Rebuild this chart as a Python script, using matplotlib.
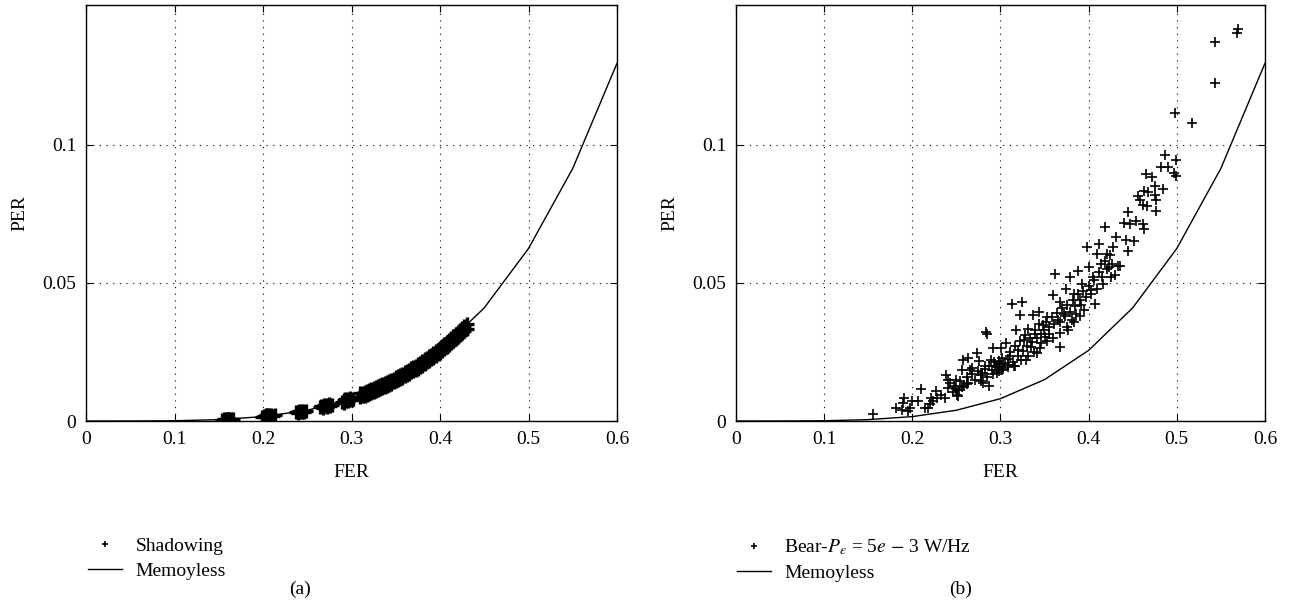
import matplotlib
matplotlib.use("Agg")
import matplotlib.pyplot as plt
from matplotlib.ticker import FixedLocator, FixedFormatter

plt.rcParams['font.family'] = ['Liberation Serif', 'DejaVu Serif']
plt.rcParams['mathtext.fontset'] = 'stix'

# memoryless curve
mem_fer = [0.0, 0.05, 0.1, 0.15, 0.2, 0.25, 0.3, 0.35, 0.4, 0.45, 0.5, 0.55, 0.6]
mem_per = [0.0, 0.00001, 0.0001, 0.0005, 0.0016, 0.0039, 0.0081, 0.0150, 0.0256, 0.0410, 0.0625, 0.0915, 0.1296]

# (a) shadowing: clusters along the curve
shad_fer = [0.154, 0.156, 0.157, 0.158, 0.159, 0.160, 0.160, 0.161, 0.162, 0.163, 0.164, 0.166,
            0.199, 0.201, 0.202, 0.203, 0.204, 0.205, 0.206, 0.207, 0.208, 0.209, 0.211, 0.213,
            0.237, 0.239, 0.240, 0.241, 0.242, 0.243, 0.244, 0.245, 0.246, 0.248,
            0.264, 0.266, 0.268, 0.269, 0.270, 0.271, 0.272, 0.273, 0.274, 0.276, 0.278,
            0.289, 0.291, 0.292, 0.293, 0.294, 0.295, 0.296, 0.297, 0.298, 0.300, 0.302]
shad_per = [0.0005, 0.0007, 0.0004, 0.0008, 0.0005, 0.0006, 0.0009, 0.0004, 0.0007, 0.0005, 0.0008, 0.0006,
            0.0016, 0.0019, 0.0014, 0.0021, 0.0017, 0.0020, 0.0015, 0.0022, 0.0018, 0.0021, 0.0019, 0.0020,
            0.0031, 0.0034, 0.0029, 0.0036, 0.0033, 0.0038, 0.0031, 0.0035, 0.0033, 0.0037,
            0.0050, 0.0054, 0.0048, 0.0057, 0.0053, 0.0058, 0.0051, 0.0056, 0.0060, 0.0055, 0.0058,
            0.0070, 0.0075, 0.0067, 0.0078, 0.0073, 0.0080, 0.0071, 0.0077, 0.0082, 0.0076, 0.0079]

# (a) shadowing: continuous band 0.31 - 0.43
band_fer = [0.3100, 0.3125, 0.3150, 0.3175, 0.3200, 0.3225, 0.3250, 0.3275, 0.3300, 0.3325,
            0.3350, 0.3375, 0.3400, 0.3425, 0.3450, 0.3475, 0.3500, 0.3525, 0.3550, 0.3575,
            0.3600, 0.3625, 0.3650, 0.3675, 0.3700, 0.3725, 0.3750, 0.3775, 0.3800, 0.3825,
            0.3850, 0.3875, 0.3900, 0.3925, 0.3950, 0.3975, 0.4000, 0.4025, 0.4050, 0.4075,
            0.4100, 0.4125, 0.4150, 0.4175, 0.4200, 0.4225, 0.4250, 0.4275, 0.4300]
band_upper = [0.0100, 0.0103, 0.0106, 0.0109, 0.0112, 0.0115, 0.0119, 0.0122, 0.0126, 0.0130,
              0.0134, 0.0138, 0.0141, 0.0145, 0.0149, 0.0154, 0.0158, 0.0162, 0.0167, 0.0171,
              0.0176, 0.0181, 0.0186, 0.0191, 0.0196, 0.0201, 0.0206, 0.0211, 0.0217, 0.0223,
              0.0228, 0.0234, 0.0240, 0.0246, 0.0253, 0.0259, 0.0265, 0.0272, 0.0279, 0.0285,
              0.0292, 0.0299, 0.0307, 0.0314, 0.0320, 0.0328, 0.0336, 0.0343, 0.0350]
band_lower = [0.0086, 0.0089, 0.0092, 0.0095, 0.0098, 0.0101, 0.0105, 0.0108, 0.0112, 0.0116,
              0.0120, 0.0124, 0.0127, 0.0131, 0.0135, 0.0140, 0.0144, 0.0148, 0.0153, 0.0157,
              0.0162, 0.0167, 0.0172, 0.0177, 0.0180, 0.0185, 0.0190, 0.0195, 0.0201, 0.0207,
              0.0212, 0.0218, 0.0224, 0.0230, 0.0237, 0.0243, 0.0248, 0.0255, 0.0262, 0.0268,
              0.0275, 0.0282, 0.0290, 0.0297, 0.0303, 0.0311, 0.0319, 0.0326, 0.0334]

# (b) bear scatter
bear_fer = [0.155, 0.182, 0.188, 0.190, 0.191, 0.195, 0.197,
            0.200, 0.207, 0.210, 0.214, 0.2174, 0.2198, 0.2212, 0.2268, 0.2235, 0.2376, 0.240, 0.2386,
            0.2424, 0.241, 0.247, 0.2494, 0.2504, 0.2541, 0.2565, 0.2579, 0.2635, 0.2532, 0.2518,
            0.2588, 0.2635, 0.2659, 0.2682, 0.2729, 0.2753, 0.2706, 0.2776, 0.2824, 0.2847, 0.2833,
            0.280, 0.287, 0.2894, 0.2918, 0.2941, 0.2965, 0.2988, 0.3002, 0.3021, 0.3059, 0.3082,
            0.3106, 0.3129, 0.3153, 0.3176, 0.320, 0.3224, 0.3247, 0.3271, 0.3294, 0.3318, 0.3341,
            0.3365, 0.3388, 0.3412, 0.3435, 0.3459, 0.3482, 0.3506, 0.3529, 0.3553, 0.360, 0.3624,
            0.3647, 0.3671, 0.368, 0.3718, 0.3741, 0.3765, 0.3788, 0.3812, 0.3835, 0.3859, 0.3882,
            0.3906, 0.3929, 0.3953, 0.3976, 0.400, 0.4024, 0.4047, 0.4071, 0.4094, 0.4118, 0.4141,
            0.4165, 0.4188, 0.4212, 0.4235, 0.4259, 0.4282, 0.4306, 0.4329, 0.4353, 0.440, 0.4424,
            0.4447, 0.4447, 0.4471, 0.4518, 0.4532, 0.4565, 0.4588, 0.4612, 0.4612, 0.4626, 0.4626,
            0.4652, 0.4659, 0.4668, 0.4715, 0.4753, 0.4753, 0.4767, 0.4767, 0.4824, 0.4838, 0.4871,
            0.4904, 0.4965, 0.4988, 0.4988, 0.4979, 0.5176, 0.5435, 0.5435, 0.5680, 0.5694,
            0.262, 0.268, 0.274, 0.279, 0.283, 0.287, 0.290, 0.293, 0.296, 0.299, 0.302, 0.305,
            0.308, 0.311, 0.314, 0.317, 0.320, 0.322, 0.325, 0.328, 0.330, 0.333, 0.336, 0.339,
            0.341, 0.344, 0.346, 0.349, 0.352, 0.355, 0.358, 0.361, 0.364, 0.367, 0.370, 0.373,
            0.376, 0.379, 0.382, 0.385, 0.388, 0.391, 0.394, 0.397, 0.400, 0.403, 0.406, 0.409,
            0.412, 0.415, 0.418, 0.421, 0.424, 0.427, 0.430, 0.278, 0.285, 0.292, 0.298, 0.303,
            0.309, 0.316, 0.323, 0.331, 0.338, 0.345, 0.353, 0.360, 0.368, 0.375, 0.383, 0.390,
            0.256, 0.262, 0.246, 0.250, 0.232, 0.228]
bear_per = [0.0025, 0.0048, 0.0040, 0.0065, 0.0085, 0.0035, 0.0048,
            0.0072, 0.0072, 0.0116, 0.0048, 0.0048, 0.0060, 0.0084, 0.0108, 0.0072, 0.0084, 0.0120, 0.0168,
            0.0138, 0.0150, 0.0126, 0.0150, 0.0096, 0.0144, 0.0186, 0.0222, 0.0228, 0.0114, 0.0090,
            0.0126, 0.0138, 0.0186, 0.0192, 0.0246, 0.0216, 0.0150, 0.0168, 0.0198, 0.0317, 0.0323,
            0.0138, 0.0126, 0.0222, 0.0263, 0.0198, 0.0174, 0.0216, 0.0263, 0.0186, 0.0281, 0.0204,
            0.0234, 0.0425, 0.0198, 0.0329, 0.0257, 0.0383, 0.0431, 0.0293, 0.0222, 0.0335, 0.0269,
            0.0383, 0.0317, 0.0246, 0.0395, 0.0281, 0.0347, 0.0305, 0.0377, 0.0317, 0.0455, 0.0533,
            0.0365, 0.0269, 0.0431, 0.0389, 0.0479, 0.0329, 0.0521, 0.0365, 0.0461, 0.0389, 0.0545,
            0.0437, 0.0497, 0.0401, 0.0629, 0.0557, 0.0473, 0.0521, 0.0425, 0.0605, 0.0641, 0.0569,
            0.0497, 0.0703, 0.0605, 0.0557, 0.0521, 0.0629, 0.0665, 0.0563, 0.0563, 0.0719, 0.0657,
            0.0758, 0.0617, 0.0715, 0.0653, 0.0725, 0.0814, 0.0800, 0.0782, 0.0715, 0.0832, 0.0697,
            0.0895, 0.0778, 0.0829, 0.0883, 0.0853, 0.0817, 0.0800, 0.0760, 0.0919, 0.0841, 0.0964,
            0.0919, 0.0898, 0.0886, 0.0944, 0.1117, 0.1081, 0.1224, 0.1374, 0.1407, 0.1419,
            0.0160, 0.0170, 0.0180, 0.0175, 0.0190, 0.0200, 0.0185, 0.0215, 0.0195, 0.0205, 0.0230, 0.0210,
            0.0225, 0.0250, 0.0215, 0.0270, 0.0235, 0.0290, 0.0255, 0.0310, 0.0270, 0.0300, 0.0285, 0.0330,
            0.0300, 0.0350, 0.0315, 0.0330, 0.0360, 0.0340, 0.0375, 0.0350, 0.0390, 0.0360, 0.0410, 0.0380,
            0.0420, 0.0395, 0.0440, 0.0415, 0.0460, 0.0420, 0.0470, 0.0450, 0.0490, 0.0460, 0.0510, 0.0480,
            0.0540, 0.0520, 0.0580, 0.0550, 0.0600, 0.0570, 0.0530, 0.0145, 0.0160, 0.0170, 0.0180, 0.0190,
            0.0195, 0.0200, 0.0220, 0.0235, 0.0250, 0.0265, 0.0290, 0.0300, 0.0320, 0.0340, 0.0360, 0.0380,
            0.0125, 0.0135, 0.0105, 0.0115, 0.0095, 0.0085]

x_ticks = [0, 0.1, 0.2, 0.3, 0.4, 0.5, 0.6]
x_labels = ['0', '0.1', '0.2', '0.3', '0.4', '0.5', '0.6']
y_ticks = [0, 0.05, 0.1]
y_labels = ['0', '0.05', '0.1']

fig = plt.figure(figsize=(12.9, 6.0), dpi=100)
ax1 = fig.add_axes([0.0667, 0.2983, 0.4116, 0.6934])
ax2 = fig.add_axes([0.5705, 0.2983, 0.4101, 0.6934])

ax1.plot(shad_fer + band_fer + band_fer, shad_per + band_upper + band_lower, label='Shadowing',
         marker='+', linestyle='none', color='black', markersize=9.5, markeredgewidth=2.4)
ax1.plot(mem_fer, mem_per, color='black', lw=1.0, label='Memoyless')

ax2.plot(bear_fer, bear_per, label=r'Bear-$P_{\varepsilon}$ = 5$e$ $-$ 3 W/Hz',
         marker='+', linestyle='none', color='black', markersize=7.5, markeredgewidth=1.2)
ax2.plot(mem_fer, mem_per, color='black', lw=1.0, label='Memoyless')

for ax, legx in [(ax1, 0.068), (ax2, 0.571)]:
    ax.set_xlim(0, 0.6)
    ax.set_ylim(0, 0.1507)
    ax.xaxis.set_major_locator(FixedLocator(x_ticks))
    ax.xaxis.set_major_formatter(FixedFormatter(x_labels))
    ax.yaxis.set_major_locator(FixedLocator(y_ticks))
    ax.yaxis.set_major_formatter(FixedFormatter(y_labels))
    ax.grid(True, linestyle=(0, (1, 5)), color='black', lw=0.8)
    ax.tick_params(direction='in', top=True, right=True, length=5, labelsize=14, pad=7)
    ax.set_xlabel('FER', fontsize=14, labelpad=12)
    ax.set_ylabel('PER', fontsize=14, labelpad=10)
    for s in ax.spines.values():
        s.set_linewidth(1.0)
    leg = ax.legend(loc='upper left', bbox_to_anchor=(legx, 0.104), bbox_transform=fig.transFigure,
                    frameon=False, borderaxespad=0, fontsize=14, handlelength=1.75,
                    handletextpad=0.7, labelspacing=0.35, borderpad=0)
    leg.legend_handles[0].set_markersize(5)
    leg.legend_handles[0].set_markeredgewidth(1.2)

fig.text(0.2325, 0.017, '(a)', fontsize=14, ha='center', va='center')
fig.text(0.7445, 0.017, '(b)', fontsize=14, ha='center', va='center')

fig.savefig('out.png', dpi=100)
